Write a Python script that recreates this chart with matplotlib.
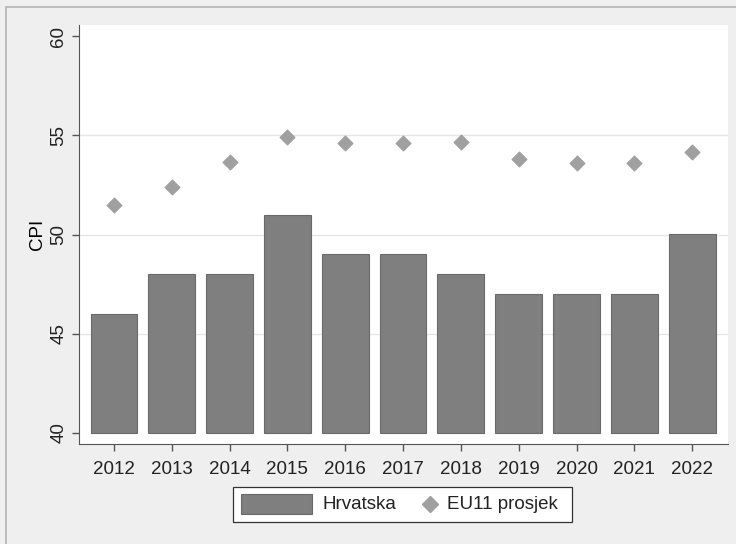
import numpy as np
import matplotlib.pyplot as plt
from matplotlib.patches import Rectangle
from matplotlib.lines import Line2D

plt.rcParams['font.family'] = ['Liberation Sans', 'DejaVu Sans']

# podaci
godine = [2012, 2013, 2014, 2015, 2016, 2017, 2018, 2019, 2020, 2021, 2022]
hrvatska = [46, 48, 48, 51, 49, 49, 48, 47, 47, 47, 50]
eu11 = [51.5, 52.4, 53.65, 54.9, 54.6, 54.6, 54.65, 53.8, 53.6, 53.6, 54.15]

W, H = 736, 544
fig = plt.figure(figsize=(W / 100, H / 100), dpi=100)
fig.patch.set_facecolor('#efefef')
# okvir oko grafa
fig.add_artist(Rectangle((5.5 / W, -0.01), 1.0, 1 - 6.5 / H + 0.01,
                         transform=fig.transFigure, fill=False,
                         edgecolor='#b4b4b4', lw=1.2))

ax = fig.add_axes([79 / W, 1 - 444 / H, (728 - 79) / W, (444 - 25) / H])
ax.set_facecolor('white')

ax.bar(godine, np.array(hrvatska) - 40, bottom=40, width=0.81,
       color='#7f7f7f', edgecolor='#6a6a6a', lw=0.8, zorder=2)
ax.scatter(godine, eu11, marker='D', s=55, color='#a0a0a0', zorder=3)

ax.set_ylim(39.44, 60.56)
ax.set_xlim(2011.395, 2022.62)
ax.set_yticks([40, 45, 50, 55, 60])
ax.set_xticks(godine)
ax.set_yticklabels(['40', '45', '50', '55', '60'], rotation=90, va='center')
ax.tick_params(axis='both', labelsize=13.5, labelcolor='#222222', length=5,
               width=1, color='#555555')
ax.tick_params(axis='x', pad=7)
for y in [45, 50, 55]:
    ax.axhline(y, color='#e6e6e6', lw=1, zorder=1)
for s in ['top', 'right']:
    ax.spines[s].set_visible(False)
for s in ['left', 'bottom']:
    ax.spines[s].set_color('#555555')
ax.set_ylabel('CPI', fontsize=13.5, labelpad=3)

# legenda (rucno)
def fx(px):
    return px / W


def fy(py):
    return 1 - py / H


fig.add_artist(Rectangle((fx(233), fy(522)), fx(572) - fx(233), fy(487) - fy(522),
                         transform=fig.transFigure, facecolor='white',
                         edgecolor='#333333', lw=0.9))
fig.add_artist(Rectangle((fx(241), fy(514)), fx(312) - fx(241), fy(494) - fy(514),
                         transform=fig.transFigure, facecolor='#7f7f7f',
                         edgecolor='#6a6a6a', lw=0.8))
fig.text(fx(323), fy(504.5), 'Hrvatska', fontsize=13.5, va='center',
         color='#222222')
fig.add_artist(Line2D([fx(430)], [fy(504)], marker='D', markersize=8.5,
                      color='#a0a0a0', transform=fig.transFigure))
fig.text(fx(447), fy(504.5), 'EU11 prosjek', fontsize=13.5, va='center',
         color='#222222')

plt.savefig('out.png', dpi=100, facecolor=fig.get_facecolor())
